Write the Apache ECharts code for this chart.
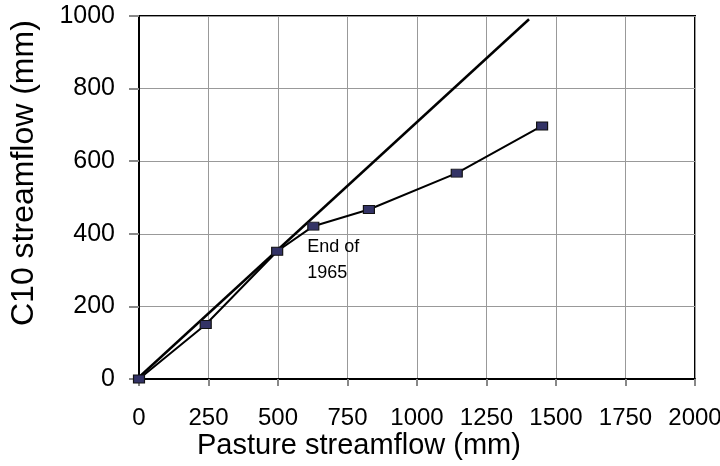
<!DOCTYPE html>
<html>
<head>
<meta charset="utf-8">
<script src="https://cdn.jsdelivr.net/npm/echarts@6/dist/echarts.min.js"></script>
<style>
  html, body { margin: 0; padding: 0; background: #fff; }
  #chart { width: 720px; height: 466px; }
</style>
</head>
<body>
<div id="chart"></div>
<script>
// Cumulative streamflow: pasture catchment vs. C10 catchment (mm)
const pastureFlow = [0, 240, 497, 627, 827, 1143, 1450];
const c10Flow = [0, 150, 352, 421, 467, 567, 697];

// Pre-treatment relationship line (extended past the origin)
const refLineX = [-54, 1403];
const refLineY = [-33, 991];

const xTicks = { min: 0, max: 2000, interval: 250 };
const yTicks = { min: 0, max: 1000, interval: 200 };

const annotationIndex = 3;
const annotationText = 'End of\n1965';

const font = 'Liberation Sans, Arial, sans-serif';

const chart = echarts.init(document.getElementById('chart'), null, { renderer: 'canvas' });

const observed = pastureFlow.map((x, i) => {
  const item = { value: [x, c10Flow[i]] };
  if (i === annotationIndex) {
    item.label = {
      show: true,
      formatter: annotationText,
      position: [0, 12],
      align: 'left',
      verticalAlign: 'top',
      fontFamily: font,
      fontSize: 18,
      lineHeight: 26,
      color: '#000'
    };
  }
  return item;
});

chart.setOption({
  animation: false,
  backgroundColor: '#fff',
  grid: {
    left: 139, right: 25, top: 16, bottom: 87,
    outerBoundsMode: 'none',
    containLabel: false,
    show: true, borderColor: '#000', borderWidth: 2
  },
  xAxis: {
    type: 'value',
    min: xTicks.min, max: xTicks.max, interval: xTicks.interval,
    axisLine: { show: true, onZero: false, lineStyle: { color: '#000', width: 2 } },
    axisTick: { show: true, length: 7, lineStyle: { color: '#888', width: 2 } },
    axisLabel: { fontFamily: font, fontSize: 24, color: '#000', margin: 27, formatter: v => String(v) },
    splitLine: { show: true, lineStyle: { color: '#999', width: 1 } }
  },
  yAxis: {
    type: 'value',
    min: yTicks.min, max: yTicks.max, interval: yTicks.interval,
    axisLine: { show: true, onZero: false, lineStyle: { color: '#000', width: 2 } },
    axisTick: { show: true, length: 10, lineStyle: { color: '#888', width: 2 } },
    axisLabel: { fontFamily: font, fontSize: 25, color: '#000', margin: 24, formatter: v => String(v) },
    splitLine: { show: true, lineStyle: { color: '#999', width: 1 } }
  },
  graphic: [
    {
      type: 'text', left: 197, top: 431,
      style: { text: 'Pasture streamflow (mm)', font: '29px ' + font, fill: '#000' }
    },
    {
      type: 'text', x: 8, y: 326, rotation: Math.PI / 2,
      style: { text: 'C10 streamflow (mm)', font: '32px ' + font, fill: '#000' }
    }
  ],
  series: [
    {
      type: 'line',
      data: refLineX.map((x, i) => [x, refLineY[i]]),
      showSymbol: false,
      symbol: 'none',
      clip: false,
      lineStyle: { color: '#000', width: 2.5 },
      z: 2
    },
    {
      type: 'line',
      data: observed,
      symbol: 'rect',
      symbolSize: [11, 8],
      clip: false,
      lineStyle: { color: '#000', width: 2 },
      itemStyle: { color: '#333366', borderColor: '#111', borderWidth: 1 },
      z: 3
    }
  ]
});
</script>
</body>
</html>
